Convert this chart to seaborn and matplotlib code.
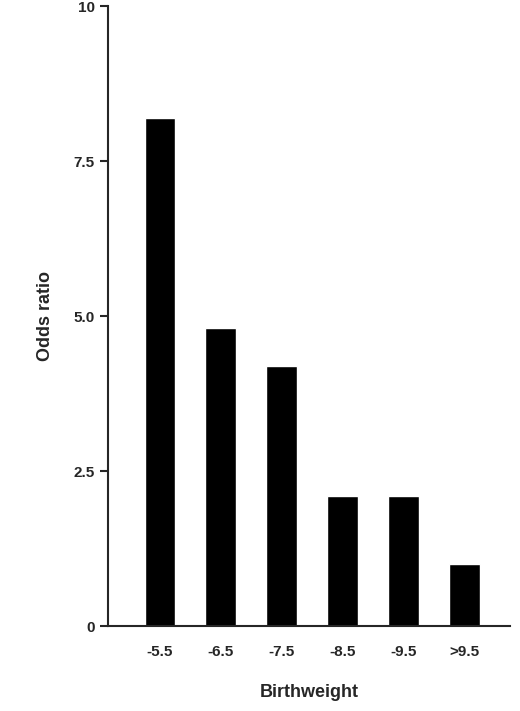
import matplotlib
matplotlib.use("Agg")
import matplotlib.pyplot as plt
import seaborn as sns

categories = ["-5.5", "-6.5", "-7.5", "-8.5", "-9.5", ">9.5"]
odds_ratio = [8.2, 4.8, 4.2, 2.1, 2.1, 1.0]
yticks = [0, 2.5, 5.0, 7.5, 10]
ytick_labels = ["0", "2.5", "5.0", "7.5", "10"]

sns.set_style("ticks")
plt.rcParams['font.family'] = ['Liberation Sans', 'DejaVu Sans']
plt.rcParams['font.weight'] = 'bold'

fig = plt.figure(figsize=(5.2, 7.11), dpi=100)
ax = fig.add_axes([0.2077, 0.1195, 0.773, 0.872])
sns.barplot(x=categories, y=odds_ratio, color="black", width=0.5, saturation=1, ax=ax)

ax.set_xlim(-0.85, 5.75)
ax.set_ylim(0, 10)
ax.set_yticks(yticks)
ax.set_yticklabels(ytick_labels, fontsize=11, fontweight='bold')
ax.tick_params(axis='x', length=0, pad=14, labelsize=11)
ax.tick_params(axis='y', length=6, width=1.5, direction='out')
for lbl in ax.get_xticklabels():
    lbl.set_fontweight('bold')
for s in ['left', 'bottom']:
    ax.spines[s].set_linewidth(1.5)
sns.despine(ax=ax)
ax.set_xlabel("Birthweight", fontsize=13, fontweight='bold', labelpad=18)
ax.set_ylabel("Odds ratio", fontsize=13, fontweight='bold', labelpad=14)
fig.savefig("out.png", dpi=100)
